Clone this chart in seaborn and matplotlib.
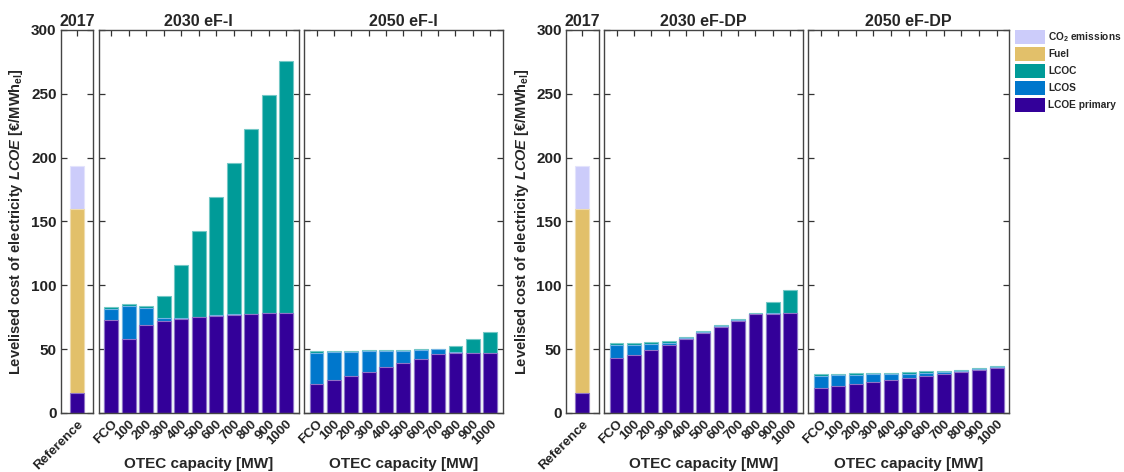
import numpy as np
import pandas as pd
import matplotlib
matplotlib.use("Agg")
import matplotlib.pyplot as plt
from matplotlib.patches import Patch
from matplotlib.colors import to_rgb
import seaborn as sns

# ---- data (EUR/MWh_el) ----
capacities = ["FCO", "100", "200", "300", "400", "500", "600", "700", "800", "900", "1000"]

ref_primary = [16.0]
ref_fuel = [144.0]
ref_co2 = [33.5]

efi30_primary = [73.0, 58.0, 69.0, 72.0, 73.6, 75.2, 76.2, 77.0, 77.5, 78.0, 78.3]
efi30_lcos = [8.5, 26.0, 13.5, 2.6, 0.5, 0.3, 0.3, 0.3, 0.3, 0.3, 0.3]
efi30_lcoc = [1.6, 1.4, 1.0, 17.0, 41.8, 67.0, 92.5, 118.5, 144.6, 171.0, 197.3]

efi50_primary = [22.7, 25.8, 29.2, 32.4, 35.8, 38.9, 42.0, 46.0, 46.7, 46.7, 46.7]
efi50_lcos = [24.5, 21.7, 18.3, 15.9, 12.5, 9.4, 7.1, 3.9, 1.1, 0.3, 0.3]
efi50_lcoc = [1.3, 1.3, 1.4, 1.0, 1.0, 1.0, 0.8, 0.3, 4.9, 10.9, 16.7]

efdp30_primary = [43.3, 45.2, 49.6, 53.5, 58.2, 62.9, 67.6, 72.3, 77.3, 77.8, 78.3]
efdp30_lcos = [10.2, 8.3, 4.7, 1.6, 0.6, 0.5, 0.4, 0.3, 0.2, 0.2, 0.2]
efdp30_lcoc = [1.3, 1.3, 1.3, 1.3, 1.0, 0.8, 0.9, 0.8, 0.6, 9.2, 18.1]

efdp50_primary = [19.8, 21.4, 22.9, 24.5, 25.8, 27.2, 28.7, 30.3, 31.9, 33.4, 35.5]
efdp50_lcos = [9.4, 8.1, 7.1, 5.8, 5.0, 3.6, 2.6, 1.8, 1.2, 1.1, 0.3]
efdp50_lcoc = [1.3, 1.3, 1.1, 1.0, 0.8, 1.3, 1.3, 1.0, 0.8, 0.5, 1.0]

colors = {
    "CO2": "#CCCCFA",
    "Fuel": "#E2C06A",
    "LCOC": "#009B98",
    "LCOS": "#0077CC",
    "LCOE primary": "#330099",
}

sns.set_theme(style="white")
plt.rcParams["font.family"] = ["Liberation Sans", "DejaVu Sans"]
plt.rcParams["font.weight"] = "bold"
plt.rcParams["axes.labelweight"] = "bold"
plt.rcParams["axes.titleweight"] = "bold"
plt.rcParams["mathtext.fontset"] = "custom"
plt.rcParams["mathtext.rm"] = "Liberation Sans:bold"
plt.rcParams["mathtext.bf"] = "Liberation Sans:bold"
plt.rcParams["mathtext.it"] = "Liberation Sans:bold:italic"
plt.rcParams["mathtext.default"] = "rm"


def edge_of(c, k=0.45):
    r = np.array(to_rgb(c))
    return tuple(r + (1 - r) * k)


def stacked(ax, cats, layers):
    """layers: list of (name, values) from bottom to top; drawn top-down as cumulative bars."""
    cum = np.cumsum([np.asarray(v, float) for _, v in layers], axis=0)
    for (name, _), tops in reversed(list(zip(layers, cum))):
        df = pd.DataFrame({"cat": cats, "val": tops})
        sns.barplot(data=df, x="cat", y="val", order=cats, color=colors[name],
                    saturation=1, width=0.8, ax=ax,
                    edgecolor=edge_of(colors[name]), linewidth=0.8)


def style(ax, title, first):
    ax.set_ylim(0, 300)
    ax.set_yticks(np.arange(0, 301, 50))
    ax.set_title(title, fontsize=11.5, fontweight="bold", pad=3)
    ax.tick_params(axis="both", which="both", direction="in", length=4, width=0.9,
                   color="#333333", top=True, right=True, bottom=True, left=True)
    ax.tick_params(axis="y", labelsize=11, labelcolor="#222222", pad=3)
    for s in ax.spines.values():
        s.set_color("#444444")
        s.set_linewidth(1.0)
        s.set_visible(True)
    ax.set_xlabel("")
    if first:
        ax.set_ylabel(r"Levelised cost of electricity $\mathit{LCOE}$ [€/MWh$_{\mathrm{el}}$]",
                      fontsize=10.5, fontweight="bold", labelpad=4)
    else:
        ax.set_ylabel("")
        ax.set_yticklabels([])
    for lab in ax.get_xticklabels():
        lab.set_rotation(45)
        lab.set_ha("right")
        lab.set_rotation_mode("anchor")
        lab.set_fontsize(9.5)
        lab.set_fontweight("bold")
        lab.set_color("#222222")
    for lab in ax.get_yticklabels():
        lab.set_fontweight("bold")


W, H = 1124, 472
fig = plt.figure(figsize=(W / 100, H / 100), dpi=100)
bot, top = 413, 30
h = (bot - top) / H
yb = 1 - bot / H


def add_ax(x0, x1):
    return fig.add_axes([x0 / W, yb, (x1 - x0) / W, h])


groups = [
    ((60.7, 93.3), (98.7, 298.7), (304.0, 502.7), "2030 eF-I", "2050 eF-I",
     (efi30_primary, efi30_lcos, efi30_lcoc), (efi50_primary, efi50_lcos, efi50_lcoc)),
    ((566.0, 598.7), (604.0, 802.7), (808.0, 1009.3), "2030 eF-DP", "2050 eF-DP",
     (efdp30_primary, efdp30_lcos, efdp30_lcoc), (efdp50_primary, efdp50_lcos, efdp50_lcoc)),
]

for ref_x, a_x, b_x, t_a, t_b, data_a, data_b in groups:
    ax0 = add_ax(*ref_x)
    stacked(ax0, ["Reference"], [("LCOE primary", ref_primary), ("Fuel", ref_fuel),
                                 ("CO2", ref_co2)])
    ax0.set_xlim(-0.93, 0.93)
    style(ax0, "2017", True)

    for xs, title, d in ((a_x, t_a, data_a), (b_x, t_b, data_b)):
        ax = add_ax(*xs)
        stacked(ax, capacities, [("LCOE primary", d[0]), ("LCOS", d[1]), ("LCOC", d[2])])
        ax.set_xlim(-0.72, 10.72)
        style(ax, title, False)
        ax.set_xlabel("OTEC capacity [MW]", fontsize=11, fontweight="bold", labelpad=7)

handles = [Patch(facecolor=colors[k], edgecolor="none") for k in
           ["CO2", "Fuel", "LCOC", "LCOS", "LCOE primary"]]
labels = [r"CO$_{\mathbf{2}}$ emissions", "Fuel", "LCOC", "LCOS", "LCOE primary"]
fig.legend(handles, labels, loc="upper left", bbox_to_anchor=(1013 / W, 1 - 28 / H),
           frameon=False, handlelength=3.0, handleheight=1.75, handletextpad=0.25,
           labelspacing=0.28, borderpad=0.2, borderaxespad=0,
           prop={"size": 7.3, "weight": "bold"})

fig.savefig("out.png", dpi=100, facecolor="white")
